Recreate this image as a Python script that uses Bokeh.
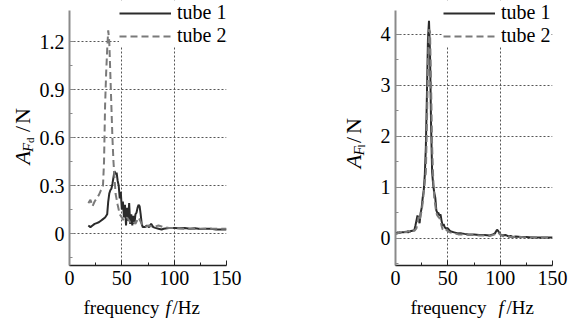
import math
from bokeh.plotting import figure
from bokeh.models import Range1d, FixedTicker, Legend, LegendItem
from bokeh.layouts import row, column
from bokeh.core.properties import value
from bokeh.embed import file_html
from bokeh.resources import INLINE

# ---------------- data ----------------
# left panel: drag force amplitude A_Fd (N)
fd_t1_x = [18, 20, 22, 24, 26, 28, 30, 32, 34, 36, 37, 38, 39, 40, 41, 42, 43, 44, 45, 46, 47, 48, 49,
           50, 51, 52, 53, 54, 55, 56, 57, 58, 59, 60, 61, 62, 63, 64, 65, 66, 67, 68, 69, 70, 72, 74,
           76, 78, 80, 82, 85, 88, 90, 95, 100, 105, 110, 115, 120, 125, 130, 135, 140, 145, 150]
fd_t1_y = [0.05, 0.04, 0.05, 0.06, 0.065, 0.07, 0.08, 0.09, 0.10, 0.12, 0.20, 0.25, 0.27, 0.28, 0.31,
           0.35, 0.39, 0.37, 0.38, 0.33, 0.30, 0.22, 0.26, 0.15, 0.20, 0.10, 0.18, 0.05, 0.16, 0.08,
           0.19, 0.06, 0.12, 0.05, 0.11, 0.06, 0.12, 0.13, 0.16, 0.18, 0.17, 0.12, 0.06, 0.04, 0.04,
           0.05, 0.04, 0.06, 0.04, 0.035, 0.03, 0.025, 0.03, 0.035, 0.035, 0.033, 0.035, 0.03, 0.033,
           0.028, 0.03, 0.03, 0.025, 0.025, 0.025]
fd_t2_x = [18, 20, 22, 24, 26, 28, 30, 32, 33, 34, 35, 36, 37, 38, 39, 40, 41, 42, 43, 44, 46, 48, 50,
           52, 55, 58, 60, 63, 66, 69, 72, 76, 80, 85, 90, 95, 100, 110, 120, 130, 140, 150]
fd_t2_y = [0.19, 0.21, 0.17, 0.20, 0.22, 0.24, 0.27, 0.30, 0.45, 0.80, 1.00, 1.15, 1.27, 1.20, 1.00,
           0.80, 0.60, 0.45, 0.35, 0.25, 0.18, 0.12, 0.10, 0.08, 0.10, 0.07, 0.08, 0.06, 0.10, 0.06,
           0.04, 0.05, 0.04, 0.05, 0.04, 0.035, 0.035, 0.03, 0.03, 0.03, 0.03, 0.03]

# right panel: lift force amplitude A_Fl (N)
fl_t1_x = [0, 2, 4, 6, 8, 10, 12, 14, 16, 18, 19, 20, 21, 22, 23, 24, 25, 26, 27, 28, 29, 30, 31, 32,
           33, 34, 35, 36, 37, 38, 39, 40, 41, 42, 43, 44, 45, 46, 47, 48, 50, 52, 54, 56, 58, 60, 63,
           66, 70, 75, 80, 85, 90, 93, 95, 97, 98, 100, 102, 105, 108, 110, 112, 115, 120, 125, 130,
           135, 140, 145, 150]
fl_t1_y = [0.10, 0.12, 0.11, 0.12, 0.12, 0.13, 0.12, 0.14, 0.15, 0.16, 0.25, 0.35, 0.45, 0.38, 0.30,
           0.50, 0.60, 0.80, 0.95, 1.25, 1.80, 2.80, 3.90, 4.27, 3.60, 2.20, 1.30, 1.05, 0.90, 0.80,
           0.55, 0.50, 0.50, 0.45, 0.47, 0.35, 0.25, 0.28, 0.22, 0.20, 0.20, 0.15, 0.13, 0.12, 0.11,
           0.10, 0.10, 0.09, 0.08, 0.08, 0.07, 0.07, 0.06, 0.08, 0.10, 0.17, 0.15, 0.08, 0.06, 0.07,
           0.04, 0.05, 0.03, 0.04, 0.03, 0.03, 0.02, 0.02, 0.02, 0.02, 0.02]
fl_t2_x = [0, 2, 4, 6, 8, 10, 12, 14, 16, 18, 20, 21, 22, 23, 24, 25, 26, 27, 28, 29, 30, 31, 32, 33,
           34, 35, 36, 37, 38, 39, 40, 41, 42, 43, 44, 45, 46, 48, 50, 52, 55, 58, 60, 65, 70, 75, 80,
           85, 90, 95, 97, 99, 102, 105, 110, 115, 120, 125, 130, 135, 140, 145, 150]
fl_t2_y = [0.08, 0.10, 0.13, 0.10, 0.14, 0.12, 0.15, 0.13, 0.18, 0.15, 0.20, 0.30, 0.42, 0.35, 0.45,
           0.55, 0.70, 0.90, 1.10, 1.30, 2.20, 3.40, 4.10, 4.05, 3.00, 1.80, 1.20, 0.80, 0.65, 0.50,
           0.45, 0.42, 0.40, 0.35, 0.25, 0.18, 0.15, 0.18, 0.14, 0.12, 0.10, 0.09, 0.08, 0.08, 0.07,
           0.07, 0.06, 0.06, 0.05, 0.08, 0.12, 0.10, 0.05, 0.04, 0.03, 0.03, 0.03, 0.02, 0.03, 0.02,
           0.02, 0.02, 0.02]

x_ticks = [0, 50, 100, 150]
x_minor = [25, 75, 125]
x_grid = [50, 100]
fd_ticks = [0, 0.3, 0.6, 0.9, 1.2]
fd_minor = [-0.15, 0.15, 0.45, 0.75, 1.05]
fd_axis_span = (-0.2, 1.394)
fl_ticks = [0, 1, 2, 3, 4]
fl_minor = [-0.5, 0.5, 1.5, 2.5, 3.5]
fl_axis_span = (-0.53, 4.47)
series_names = ["tube 1", "tube 2"]

SERIF = "Liberation Serif"
C1 = "#2b2b2b"
C2 = "#7a7a7a"
H_TOP = 294         # height of the plot row
B_BOT = 29          # bottom border (tick labels)
H_XL = 322 - H_TOP  # height of the x-label strip
FRAME_H = H_TOP - B_BOT


def make_panel(width, bl, br, span, yticks, yminor, d1x, d1y, d2x, d2y, legend_x):
    # the frame reaches the top of the canvas so that the legend is not clipped;
    # the y axis line itself is bounded to the original span
    px_per_unit = (FRAME_H - 10) / (span[1] - span[0])
    ytop = span[0] + FRAME_H / px_per_unit
    p = figure(width=width, height=H_TOP, x_range=Range1d(0, 150), y_range=Range1d(span[0], ytop),
               output_backend="svg", toolbar_location=None,
               min_border_left=bl, min_border_right=br, min_border_top=0,
               min_border_bottom=B_BOT)
    p.outline_line_color = None
    p.background_fill_color = "white"
    p.border_fill_color = "white"

    p.xaxis.ticker = FixedTicker(ticks=x_ticks, minor_ticks=x_minor)
    p.yaxis.ticker = FixedTicker(ticks=yticks, minor_ticks=yminor)
    p.yaxis.bounds = span
    p.xgrid.ticker = FixedTicker(ticks=x_grid)
    p.ygrid.ticker = FixedTicker(ticks=yticks)
    for g in (p.xgrid, p.ygrid):
        g.grid_line_color = "#555555"
        g.grid_line_dash = "2 2"
        g.grid_line_width = 1

    for ax in (p.xaxis, p.yaxis):
        ax.major_tick_in = 5
        ax.major_tick_out = 0
        ax.minor_tick_in = 3
        ax.minor_tick_out = 0
        ax.major_label_text_font = SERIF
        ax.major_label_text_font_size = "20px"
        ax.major_label_text_color = "black"
    p.xaxis.axis_line_color = "#222222"
    p.xaxis.axis_line_width = 1.5
    p.xaxis.major_tick_line_color = "#222222"
    p.xaxis.minor_tick_line_color = "#222222"
    p.xaxis.major_label_standoff = 5
    p.yaxis.axis_line_color = "#8a8a8a"
    p.yaxis.axis_line_width = 2
    p.yaxis.major_tick_line_color = "#8a8a8a"
    p.yaxis.minor_tick_line_color = "#8a8a8a"
    p.yaxis.major_label_standoff = 5

    r1 = p.line(d1x, d1y, line_color=C1, line_width=2)
    r2 = p.line(d2x, d2y, line_color=C2, line_width=2, line_dash="7 4")

    leg = Legend(items=[LegendItem(label=series_names[0], renderers=[r1]),
                        LegendItem(label=series_names[1], renderers=[r2])],
                 location=(legend_x, 218), orientation="vertical")
    leg.label_text_font = SERIF
    leg.label_text_font_size = "20px"
    leg.label_text_color = "black"
    leg.label_text_line_height = 0.9
    leg.glyph_width = 52
    leg.glyph_height = 20
    leg.label_height = 20
    leg.label_standoff = 6
    leg.spacing = 0
    leg.padding = 0
    leg.margin = 0
    leg.border_line_color = None
    leg.background_fill_color = "white"
    leg.background_fill_alpha = 1
    p.add_layout(leg, "center")
    return p


def strip(w, h):
    f = figure(width=w, height=h, x_range=Range1d(0, w), y_range=Range1d(0, h),
               output_backend="svg", toolbar_location=None, min_border=0,
               x_axis_type=None, y_axis_type=None)
    f.outline_line_color = None
    f.background_fill_color = "white"
    f.border_fill_color = "white"
    return f


def put(f, x, y, text, size, italic=False, angle=0.0):
    f.text(x=[x], y=[y], text=[text], angle=angle, text_font=value(SERIF),
           text_font_size=value(size), text_font_style="italic" if italic else "normal",
           text_color="black", text_align="left", text_baseline="alphabetic")


R = math.pi / 2
XL_BASE = 322 - 307   # x-label baseline inside the strip (page y 307)

# ---- left panel ----
yl1 = strip(36, H_TOP)          # page x 0..36 (y data = H_TOP - page y)
put(yl1, 22, H_TOP - 182, "A", "22px", italic=True, angle=R)
put(yl1, 27, H_TOP - 168, "F", "15px", italic=True, angle=R)
put(yl1, 29.5, H_TOP - 158, "d", "11px", angle=R)
put(yl1, 22, H_TOP - 146, "/", "22px", angle=R)
put(yl1, 22, H_TOP - 137, "N", "22px", angle=R)
p1 = make_panel(249, 33, 59, fd_axis_span, fd_ticks, fd_minor,
                fd_t1_x, fd_t1_y, fd_t2_x, fd_t2_y, 50)
xl1 = strip(285, H_XL)          # page y H_TOP..322 (y data = 322 - page y)
put(xl1, 83, XL_BASE, "frequency", "19px")
put(xl1, 165, XL_BASE, "f", "19px", italic=True)
put(xl1, 172, XL_BASE, "/Hz", "19px")

# ---- right panel ----
yl2 = strip(86, H_TOP)          # page x 285..371
put(yl2, 353 - 285, H_TOP - 186, "A", "22px", italic=True, angle=R)
put(yl2, 358 - 285, H_TOP - 172, "F", "15px", italic=True, angle=R)
put(yl2, 360.5 - 285, H_TOP - 163, "l", "11px", angle=R)
put(yl2, 353 - 285, H_TOP - 158, "/", "22px", angle=R)
put(yl2, 353 - 285, H_TOP - 148, "N", "22px", angle=R)
p2 = make_panel(198, 24, 17, fl_axis_span, fl_ticks, fl_minor,
                fl_t1_x, fl_t1_y, fl_t2_x, fl_t2_y, 48)
xl2 = strip(284, H_XL)
put(xl2, 410 - 285, XL_BASE, "frequency", "19px")
put(xl2, 498 - 285, XL_BASE, "f", "19px", italic=True)
put(xl2, 506 - 285, XL_BASE, "/Hz", "19px")

layout = row(column(row(yl1, p1, spacing=0), xl1, spacing=0),
             column(row(yl2, p2, spacing=0), xl2, spacing=0), spacing=0)
open("out.html", "w").write(file_html(layout, INLINE))
